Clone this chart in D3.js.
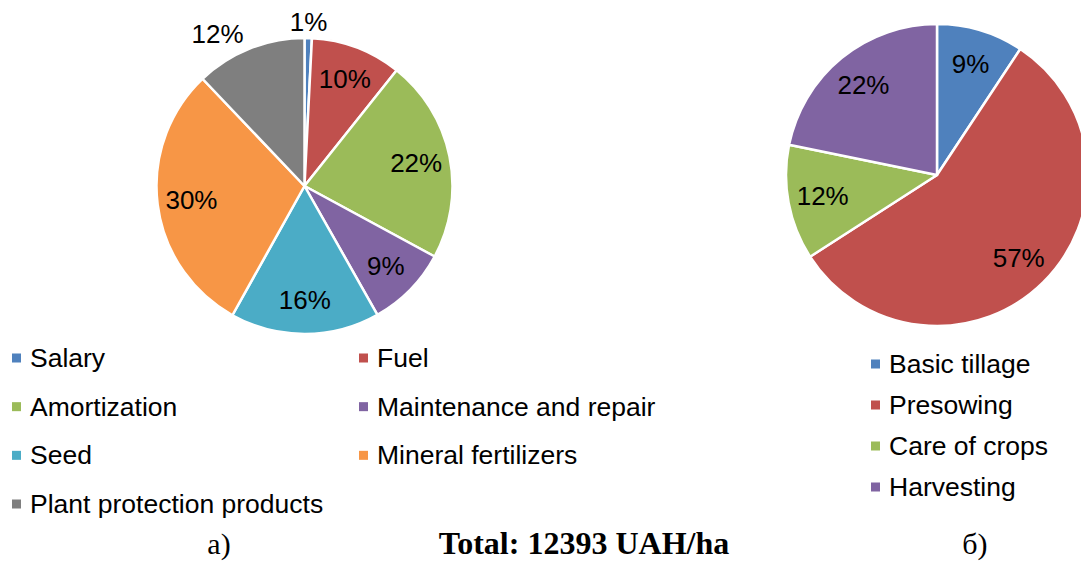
<!DOCTYPE html>
<html>
<head>
<meta charset="utf-8">
<script src="https://cdn.jsdelivr.net/npm/d3@7"></script>
<style>
  body { margin: 0; background: #fff; }
  svg { display: block; }
  .lbl { font-family: "Liberation Sans", Arial, sans-serif; font-size: 26px; fill: #000; }
  .leg { font-family: "Liberation Sans", Arial, sans-serif; font-size: 26.5px; fill: #000; }
  .cap { font-family: "Liberation Serif", "Times New Roman", serif; fill: #000; }
</style>
</head>
<body>
<div id="chart"></div>
<script>
// a) cost structure, % of total
var costNames = ["Salary", "Fuel", "Amortization", "Maintenance and repair", "Seed", "Mineral fertilizers", "Plant protection products"];
var costValues = [0.8, 9.9, 22.2, 8.9, 16.3, 29.8, 12.1];
var costLabels = ["1%", "10%", "22%", "9%", "16%", "30%", "12%"];
var costOutside = ["Salary", "Plant protection products"];
var costColors = ["#4F81BD", "#C0504D", "#9BBB59", "#8064A2", "#4BACC6", "#F79646", "#7F7F7F"];

// b) operations structure, % of total
var opNames = ["Basic tillage", "Presowing", "Care of crops", "Harvesting"];
var opValues = [9.3, 56.6, 12.3, 21.8];
var opLabels = ["9%", "57%", "12%", "22%"];
var opColors = ["#4F81BD", "#C0504D", "#9BBB59", "#8064A2"];

var svgWidth = 1081;
var svgHeight = 565;

var svg = d3.select("#chart").append("svg")
    .attr("width", svgWidth)
    .attr("height", svgHeight);

function drawPie(cx, cy, r, names, values, labels, colors, outside) {
    var g = svg.append("g")
        .attr("transform", `translate(${cx}, ${cy})`);

    var pie = d3.pie().sort(null).value(d => d.value);
    var data = names.map((n, i) => ({ name: n, value: values[i], label: labels[i], color: colors[i] }));
    var arcs = pie(data);

    var arc = d3.arc().innerRadius(0).outerRadius(r);
    var inner = d3.arc().innerRadius(r * 0.77).outerRadius(r * 0.77);

    g.selectAll("path")
        .data(arcs)
        .enter()
        .append("path")
        .attr("d", arc)
        .attr("fill", d => d.data.color)
        .attr("stroke", "#fff")
        .attr("stroke-width", 2.5)
        .attr("stroke-linejoin", "round");

    g.selectAll("text")
        .data(arcs)
        .enter()
        .append("text")
        .attr("class", "lbl")
        .attr("dominant-baseline", "central")
        .each(function(d) {
            var t = d3.select(this);
            if (outside.indexOf(d.data.name) >= 0) {
                var a = (d.startAngle + d.endAngle) / 2;
                var rr = r + 16;
                var s = Math.sin(a);
                t.attr("x", rr * s)
                 .attr("y", -rr * Math.cos(a))
                 .attr("text-anchor", Math.abs(s) < 0.2 ? "middle" : (s < 0 ? "end" : "start"));
            } else {
                var c = inner.centroid(d);
                t.attr("x", c[0]).attr("y", c[1]).attr("text-anchor", "middle");
            }
        })
        .text(d => d.data.label);
}

drawPie(304.5, 186, 148, costNames, costValues, costLabels, costColors, costOutside);
drawPie(937, 175, 151, opNames, opValues, opLabels, opColors, []);

// legend a): two columns
var legA = svg.append("g");
var colX = [12, 359];
var rowY = d3.scalePoint().domain(d3.range(4)).range([358, 504]);

costNames.forEach((n, i) => {
    var x = colX[i % 2];
    var y = rowY(Math.floor(i / 2));
    legA.append("rect")
        .attr("x", x).attr("y", y - 4.5)
        .attr("width", 9).attr("height", 9)
        .attr("fill", costColors[i]);
    legA.append("text")
        .attr("class", "leg")
        .attr("x", x + 18).attr("y", y + 9)
        .text(n);
});

// legend b)
var legB = svg.append("g");
var rowB = d3.scalePoint().domain(d3.range(opNames.length)).range([364, 487]);
opNames.forEach((n, i) => {
    var y = rowB(i);
    legB.append("rect")
        .attr("x", 871).attr("y", y - 4.5)
        .attr("width", 9).attr("height", 9)
        .attr("fill", opColors[i]);
    legB.append("text")
        .attr("class", "leg")
        .attr("x", 889).attr("y", y + 9)
        .text(n);
});

// captions
svg.append("text").attr("class", "cap")
    .attr("x", 219).attr("y", 554)
    .attr("text-anchor", "middle")
    .style("font-size", "30px")
    .text("а)");

svg.append("text").attr("class", "cap")
    .attr("x", 584).attr("y", 554)
    .attr("text-anchor", "middle")
    .style("font-size", "32px")
    .style("font-weight", "bold")
    .text("Total: 12393 UAH/ha");

svg.append("text").attr("class", "cap")
    .attr("x", 975).attr("y", 554)
    .attr("text-anchor", "middle")
    .style("font-size", "30px")
    .text("б)");
</script>
</body>
</html>
